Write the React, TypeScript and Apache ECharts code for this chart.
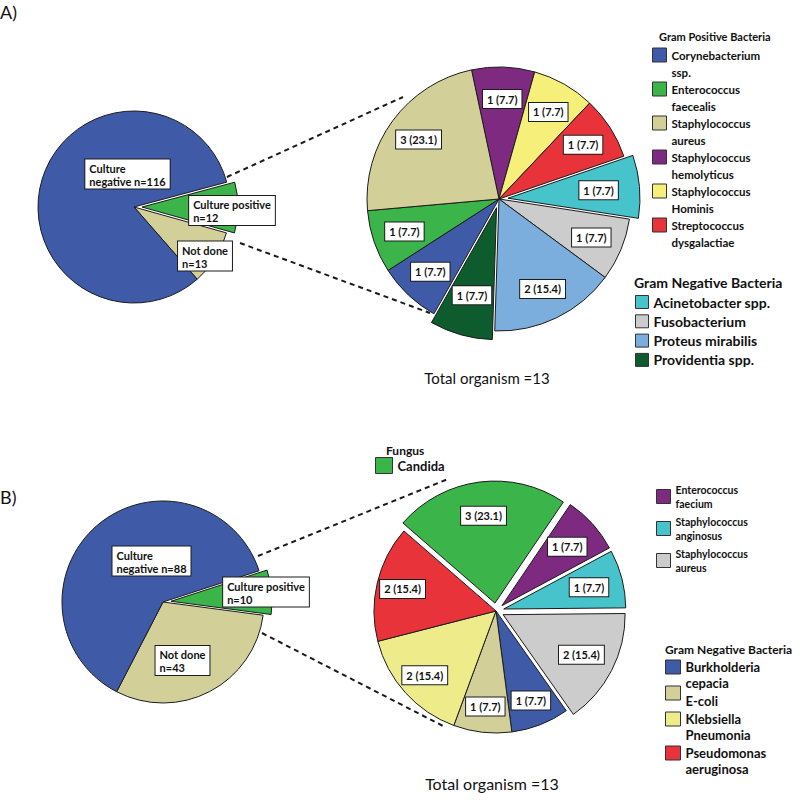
import React, { useEffect, useRef } from "react";
import * as echarts from "echarts";

// ---------------- Panel A data ----------------
const aOverviewNames = ["Culture positive", "Not done", "Culture negative"];
const aOverviewValues = [12, 13, 116];
const aOrganismNames = [
  "Staphylococcus hemolyticus",
  "Staphylococcus Hominis",
  "Streptococcus dysgalactiae",
  "Acinetobacter spp.",
  "Fusobacterium",
  "Proteus mirabilis",
  "Providentia spp.",
  "Corynebacterium ssp.",
  "Enterococcus faecealis",
  "Staphylococcus aureus",
];
const aOrganismValues = [1, 1, 1, 1, 1, 2, 1, 1, 1, 3];
const aExplodedOrganisms = ["Acinetobacter spp.", "Providentia spp."];
const aGramPositive = [
  "Corynebacterium ssp.",
  "Enterococcus faecealis",
  "Staphylococcus aureus",
  "Staphylococcus hemolyticus",
  "Staphylococcus Hominis",
  "Streptococcus dysgalactiae",
];
const aGramNegative = ["Acinetobacter spp.", "Fusobacterium", "Proteus mirabilis", "Providentia spp."];

// ---------------- Panel B data ----------------
const bOverviewNames = ["Culture positive", "Not done", "Culture negative"];
const bOverviewValues = [10, 43, 88];
const bOrganismNames = [
  "Candida",
  "Enterococcus faecium",
  "Staphylococcus anginosus",
  "Staphylococcus aureus",
  "Burkholderia cepacia",
  "E-coli",
  "Klebsiella Pneumonia",
  "Pseudomonas aeruginosa",
];
const bOrganismValues = [3, 1, 1, 2, 1, 1, 2, 2];
const bExplodedOrganisms = ["Candida", "Enterococcus faecium", "Staphylococcus anginosus", "Staphylococcus aureus"];
const bFungus = ["Candida"];
const bGramPositive = ["Enterococcus faecium", "Staphylococcus anginosus", "Staphylococcus aureus"];
const bGramNegative = ["Burkholderia cepacia", "E-coli", "Klebsiella Pneumonia", "Pseudomonas aeruginosa"];

const overviewLabelPrefix: Record<string, string> = {
  "Culture positive": "Culture positive\nn=",
  "Not done": "Not done\nn=",
  "Culture negative": "Culture\nnegative n=",
};

// ---------------- Styles ----------------
const FONT = "Lato, 'Open Sans', 'DejaVu Sans', sans-serif";
const INK = "#111111";
const BORDER = "#1c1c1c";

const OVERVIEW_COLORS: Record<string, string> = {
  "Culture positive": "#3BB54A",
  "Not done": "#D3CF99",
  "Culture negative": "#3F5BA8",
};
const COLORS_A: Record<string, string> = {
  "Corynebacterium ssp.": "#3F5BA8",
  "Enterococcus faecealis": "#3BB54A",
  "Staphylococcus aureus": "#D3CF99",
  "Staphylococcus hemolyticus": "#7E2A80",
  "Staphylococcus Hominis": "#F6EF7A",
  "Streptococcus dysgalactiae": "#E8333B",
  "Acinetobacter spp.": "#47C3CB",
  Fusobacterium: "#CCCCCC",
  "Proteus mirabilis": "#7BAEDC",
  "Providentia spp.": "#0E5B2E",
};
const COLORS_B: Record<string, string> = {
  Candida: "#3BB54A",
  "Enterococcus faecium": "#7E2A80",
  "Staphylococcus anginosus": "#47C3CB",
  "Staphylococcus aureus": "#CCCCCC",
  "Burkholderia cepacia": "#3F5BA8",
  "E-coli": "#D3CF99",
  "Klebsiella Pneumonia": "#EEEB8B",
  "Pseudomonas aeruginosa": "#E8333B",
};

const boxLabel = {
  backgroundColor: "#ffffff",
  borderColor: BORDER,
  borderWidth: 1,
  color: INK,
  fontFamily: FONT,
  fontWeight: "bold" as const,
  fontSize: 11,
  lineHeight: 13,
  padding: [3, 4, 2, 4],
};

function overviewSeries(
  names: string[],
  values: number[],
  center: number[],
  radius: number,
  startAngle: number,
  labelOffsets: number[][]
) {
  const base = names.map((n, i) => ({ name: n, value: values[i] }));
  return [
    {
      type: "pie",
      z: 2,
      center,
      radius,
      startAngle,
      clockwise: true,
      silent: true,
      selectedMode: "multiple",
      selectedOffset: 8,
      label: { show: false },
      labelLine: { show: false },
      itemStyle: { borderColor: BORDER, borderWidth: 1 },
      data: base.map((d) => ({
        ...d,
        selected: d.name === "Culture positive",
        itemStyle: { color: OVERVIEW_COLORS[d.name] },
      })),
    },
    {
      type: "pie",
      z: 6,
      center,
      radius,
      startAngle,
      clockwise: true,
      silent: true,
      itemStyle: { color: "transparent", borderWidth: 0 },
      labelLine: { show: false },
      label: {
        show: true,
        position: "inside",
        rotate: 0,
        ...boxLabel,
        padding: [2, 4, 1, 4],
        formatter: (p: any) =>
          (overviewLabelPrefix[p.name] + p.value)
            .split("\n")
            .map((l: string) => "{t|" + l + "}")
            .join("\n"),
        rich: {
          t: { align: "left", fontFamily: FONT, fontWeight: "bold", fontSize: 11, lineHeight: 13, color: INK },
        },
      },
      labelLayout: (p: any) => ({
        x: center[0] + labelOffsets[p.dataIndex][0],
        y: center[1] + labelOffsets[p.dataIndex][1],
        align: "center",
        verticalAlign: "middle",
      }),
      data: base,
    },
  ];
}

function organismSeries(
  names: string[],
  values: number[],
  exploded: string[],
  colors: Record<string, string>,
  center: number[],
  radius: number,
  labelInner: number,
  startAngle: number,
  offset: number
) {
  const total = values.reduce((a, b) => a + b, 0);
  const base = names.map((n, i) => ({ name: n, value: values[i] }));
  return [
    {
      type: "pie",
      z: 2,
      center,
      radius,
      startAngle,
      clockwise: true,
      silent: true,
      selectedMode: "multiple",
      selectedOffset: offset,
      label: { show: false },
      labelLine: { show: false },
      itemStyle: { borderColor: BORDER, borderWidth: 1 },
      data: base.map((d) => ({
        ...d,
        selected: exploded.indexOf(d.name) >= 0,
        itemStyle: { color: colors[d.name] },
      })),
    },
    {
      type: "pie",
      z: 6,
      center,
      radius: [labelInner, radius],
      startAngle,
      clockwise: true,
      silent: true,
      itemStyle: { color: "transparent", borderWidth: 0 },
      labelLine: { show: false },
      label: {
        show: true,
        position: "inside",
        rotate: 0,
        ...boxLabel,
        formatter: (p: any) => `${p.value} (${((p.value / total) * 100).toFixed(1)})`,
      },
      data: base,
    },
  ];
}

// lead: add a blank first line so that the icon lines up with the name's first line
function legend(
  names: string[],
  left: number,
  top: number,
  o: { iw: number; ih: number; fs: number; lh: number; gap: number; wrap: boolean; lead?: boolean }
) {
  const l: any = {
    data: names,
    left,
    top,
    orient: "vertical",
    padding: 0,
    itemGap: o.gap,
    itemWidth: o.iw,
    itemHeight: o.ih,
    icon: "rect",
    selectedMode: false,
    itemStyle: { borderColor: "#333333", borderWidth: 1 },
    textStyle: {
      fontFamily: FONT,
      fontWeight: "bold",
      fontSize: o.fs,
      lineHeight: o.lh,
      color: INK,
    },
    formatter: (n: string) => (o.lead ? " \n" : "") + (o.wrap ? n.replace(" ", "\n") : n),
  };
  return l;
}

function text(x: number, y: number, t: string, font: string, align = "left") {
  return {
    type: "text",
    x,
    y,
    silent: true,
    z: 10,
    style: {
      text: t,
      font,
      fill: INK,
      align,
      textAlign: align,
      verticalAlign: "middle",
      textVerticalAlign: "middle",
    },
  };
}

function dashed(x1: number, y1: number, x2: number, y2: number) {
  return {
    type: "line",
    silent: true,
    shape: { x1, y1, x2, y2 },
    style: { stroke: "#1a1a1a", lineWidth: 2, lineDash: [5, 4] },
  };
}

function optionA() {
  const total = aOrganismValues.reduce((a, b) => a + b, 0);
  return {
    animation: false,
    backgroundColor: "#ffffff",
    legend: [
      legend(aGramPositive, 652, 29.5, { iw: 14, ih: 14, fs: 11.5, lh: 17, gap: -17, wrap: true, lead: true }),
      legend(aGramNegative, 635, 293, { iw: 13, ih: 13, fs: 14, lh: 18, gap: 1.3, wrap: false }),
    ],
    graphic: [
      text(0, 12, "A)", `18px ${FONT}`),
      text(659, 36, "Gram Positive Bacteria", `bold 11px ${FONT}`),
      text(634, 282, "Gram Negative Bacteria", `bold 14px ${FONT}`),
      text(487, 378, `Total organism =${total}`, `15px ${FONT}`, "center"),
      dashed(227, 177, 403, 97),
      dashed(240, 243, 430, 313),
    ],
    series: [
      ...overviewSeries(aOverviewNames, aOverviewValues, [134, 207], 96, 15, [
        [98, 3.5],
        [71, 49],
        [-6.5, -33],
      ]),
      ...organismSeries(aOrganismNames, aOrganismValues, aExplodedOrganisms, COLORS_A, [499, 199], 132, 62, 102, 9),
    ],
  };
}

function optionB() {
  const total = bOrganismValues.reduce((a, b) => a + b, 0);
  return {
    animation: false,
    backgroundColor: "#ffffff",
    legend: [
      legend(bFungus, 375, 57, { iw: 17, ih: 16, fs: 13, lh: 16, gap: 0, wrap: false }),
      legend(bGramPositive, 656, 82.5, { iw: 14, ih: 14, fs: 10.5, lh: 14, gap: 4, wrap: true }),
      legend(bGramNegative, 665, 243, { iw: 15, ih: 14, fs: 13, lh: 16, gap: -14, wrap: true, lead: true }),
    ],
    graphic: [
      text(0, 97, "B)", `18px ${FONT}`),
      text(386, 50, "Fungus", `bold 12px ${FONT}`),
      text(665, 249, "Gram Negative Bacteria", `bold 12px ${FONT}`),
      text(492, 383, `Total organism =${total}`, `16px ${FONT}`, "center"),
      dashed(258, 156, 448, 79),
      dashed(262, 233, 445, 327),
    ],
    series: [
      ...overviewSeries(bOverviewNames, bOverviewValues, [163, 202], 101, 18, [
        [103, -10],
        [19.5, 58.5],
        [-11.5, -41],
      ]),
      ...organismSeries(bOrganismNames, bOrganismValues, bExplodedOrganisms, COLORS_B, [496, 211], 122, 64, 139, 8),
    ],
  };
}

export default function App() {
  const refA = useRef<HTMLDivElement>(null);
  const refB = useRef<HTMLDivElement>(null);
  useEffect(() => {
    const ca = echarts.init(refA.current as HTMLDivElement, undefined, { renderer: "svg" });
    const cb = echarts.init(refB.current as HTMLDivElement, undefined, { renderer: "svg" });
    ca.setOption(optionA() as any);
    cb.setOption(optionB() as any);
    return () => {
      ca.dispose();
      cb.dispose();
    };
  }, []);
  return (
    <div style={{ position: "absolute", left: 0, top: 0, width: 800, height: 803, background: "#ffffff" }}>
      <div ref={refA} style={{ position: "absolute", left: 0, top: 0, width: 800, height: 400 }} />
      <div ref={refB} style={{ position: "absolute", left: 0, top: 400, width: 800, height: 403 }} />
    </div>
  );
}
